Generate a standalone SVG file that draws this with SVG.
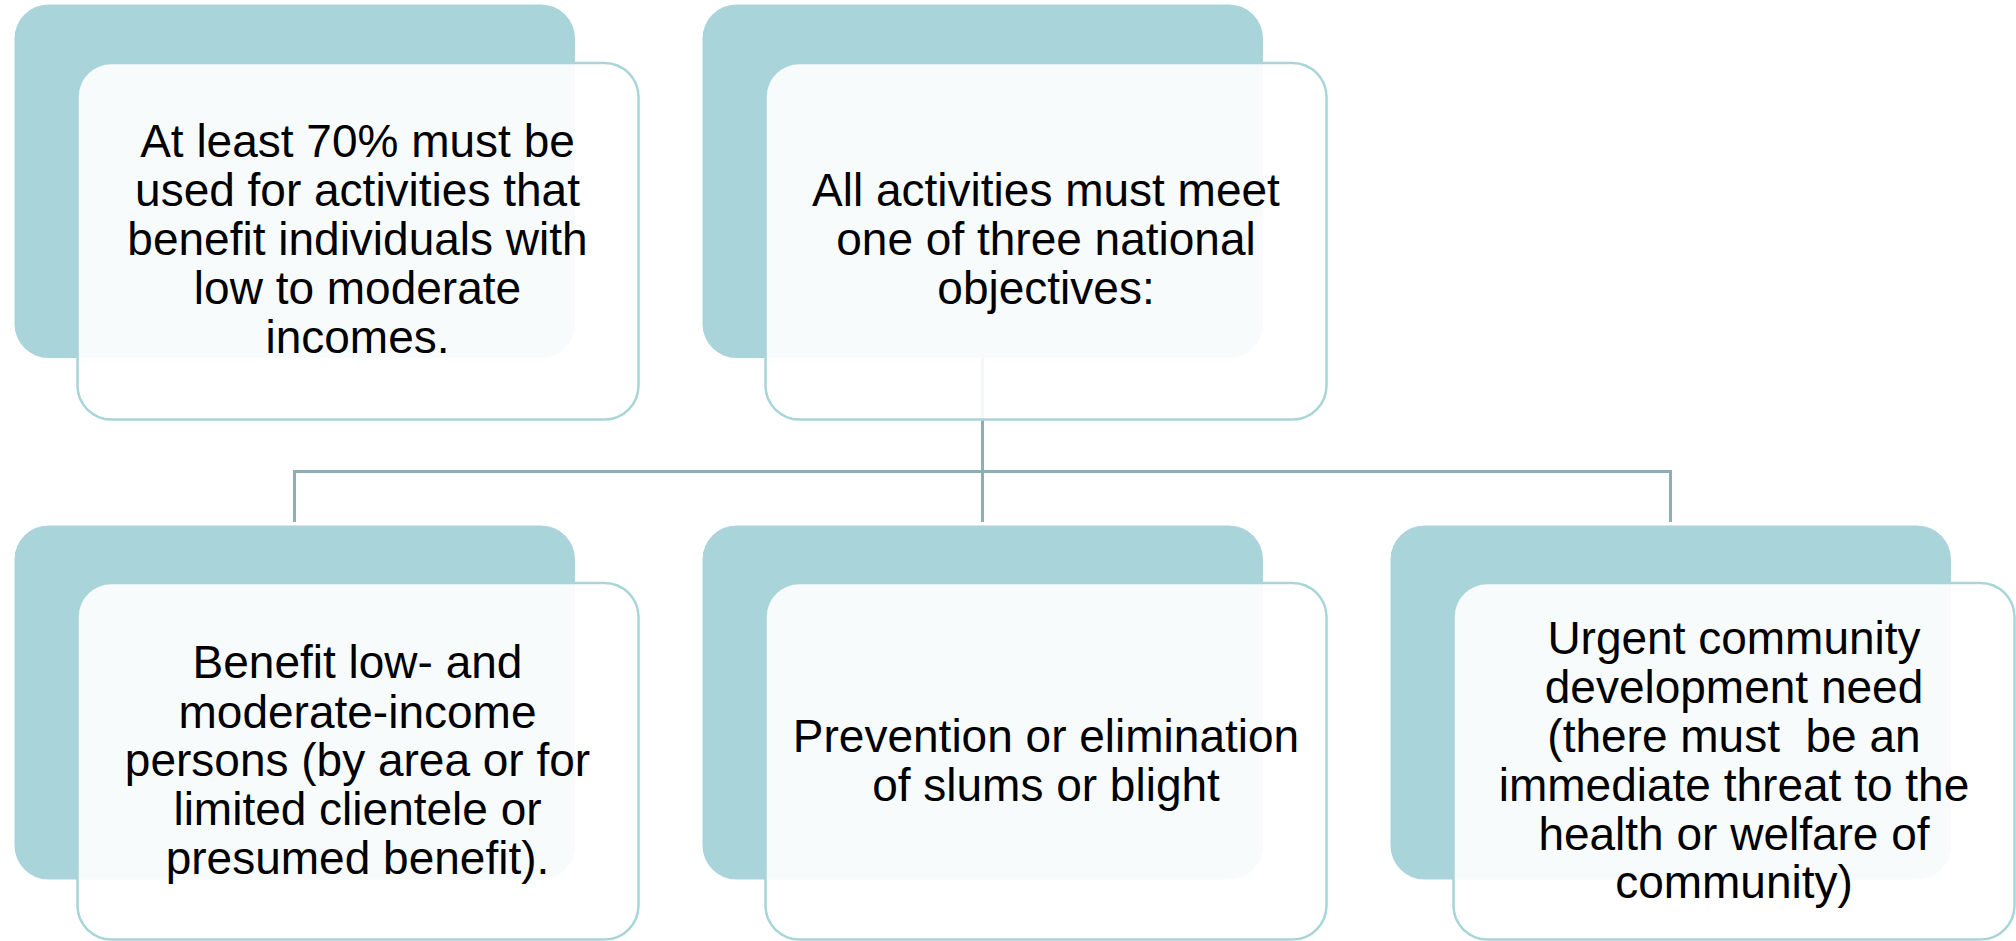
<svg xmlns="http://www.w3.org/2000/svg" width="2016" height="941" viewBox="0 0 2016 941">
<style>
.back{fill:#A9D4DA;}
.front{fill:#FFFFFF;fill-opacity:0.9;stroke:#A9D4DA;stroke-width:2.5;}
.conn{fill:none;stroke:#8BAFB4;stroke-width:3;}
.t{font-family:"Liberation Sans",Arial,sans-serif;font-size:46px;fill:#000000;text-anchor:middle;white-space:pre;}
</style>
<rect width="2016" height="941" fill="#FFFFFF"/>
<g id="connectors">
<path class="conn" d="M982.5,358 V471.5"/>
<path class="conn" d="M294.5,522 V471.5 H1670.5 V522"/>
<path class="conn" d="M982.5,471.5 V522"/>
</g>
<g id="node-70pct">
<rect class="back" x="14.5" y="4.5" width="560.5" height="353.5" rx="34"/>
<rect class="front" x="77.5" y="63" width="561" height="356.5" rx="34"/>
<text class="t" x="357.5" y="156.7">At least 70% must be</text>
<text class="t" x="357.5" y="205.7">used for activities that</text>
<text class="t" x="357.5" y="255">benefit individuals with</text>
<text class="t" x="357.5" y="304">low to moderate</text>
<text class="t" x="357.5" y="352.7">incomes.</text>
</g>
<g id="node-objectives">
<rect class="back" x="702.5" y="4.5" width="560.5" height="353.5" rx="34"/>
<rect class="front" x="765.5" y="63" width="561" height="356.5" rx="34"/>
<text class="t" x="1046" y="205.7">All activities must meet</text>
<text class="t" x="1046" y="255">one of three national</text>
<text class="t" x="1046" y="304">objectives:</text>
</g>
<g id="node-lmi">
<rect class="back" x="14.5" y="525.5" width="560.5" height="354" rx="34"/>
<rect class="front" x="77.5" y="583" width="561" height="356.5" rx="34"/>
<text class="t" x="357.5" y="678.3">Benefit low- and</text>
<text class="t" x="357.5" y="727.5">moderate-income</text>
<text class="t" x="357.5" y="776">persons (by area or for</text>
<text class="t" x="357.5" y="825">limited clientele or</text>
<text class="t" x="357.5" y="873.5">presumed benefit).</text>
</g>
<g id="node-slums">
<rect class="back" x="702.5" y="525.5" width="560.5" height="354" rx="34"/>
<rect class="front" x="765.5" y="583" width="561" height="356.5" rx="34"/>
<text class="t" x="1046" y="751.7">Prevention or elimination</text>
<text class="t" x="1046" y="801">of slums or blight</text>
</g>
<g id="node-urgent">
<rect class="back" x="1390.5" y="525.5" width="560.5" height="354" rx="34"/>
<rect class="front" x="1453.5" y="583" width="561" height="356.5" rx="34"/>
<text class="t" x="1734" y="654">Urgent community</text>
<text class="t" x="1734" y="702.7">development need</text>
<text class="t" x="1734" y="751.7">(there must  be an</text>
<text class="t" x="1734" y="801">immediate threat to the</text>
<text class="t" x="1734" y="850">health or welfare of</text>
<text class="t" x="1734" y="898.3">community)</text>
</g>
</svg>
